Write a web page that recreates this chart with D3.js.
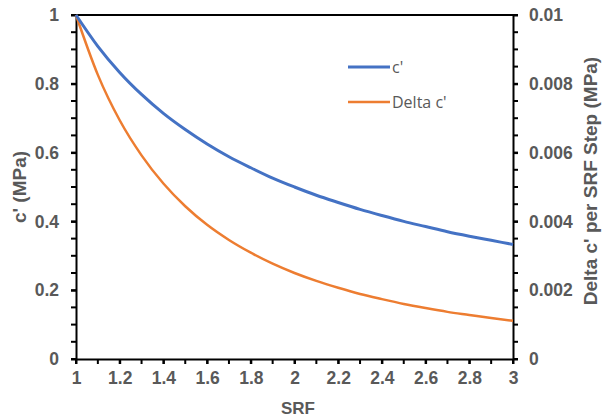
<!doctype html>
<html>
<head>
<meta charset="utf-8">
<style>
	body { margin: 0; background: #fff; }
	.tick text {
		font: bold 17.5px "Liberation Sans", Arial, sans-serif;
		fill: #595959;
	}
	.lbl {
		font: bold 18px "Liberation Sans", Arial, sans-serif;
		fill: #595959;
	}
	.axis path, .axis line {
		stroke: #000;
		stroke-width: 2px;
	}
	.lgd-text {
		font: 16px "Open Sans", sans-serif;
		fill: #595959;
	}
</style>
<script src="https://d3js.org/d3.v7.min.js"></script>
</head>
<body>
<div id="canvas"></div>
<script>
	var srf = [1, 1.1, 1.2, 1.3, 1.4, 1.5, 1.6, 1.7, 1.8, 1.9, 2, 2.1, 2.2, 2.3, 2.4, 2.5, 2.6, 2.7, 2.8, 2.9, 3];
	var c_prime = [1, 0.909, 0.833, 0.769, 0.714, 0.667, 0.625, 0.588, 0.556, 0.526, 0.5, 0.476, 0.455, 0.435, 0.417, 0.4, 0.385, 0.37, 0.357, 0.345, 0.333];
	var delta_c = [0.01, 0.00826, 0.00694, 0.00592, 0.0051, 0.00444, 0.0039, 0.00346, 0.00309, 0.00277, 0.0025, 0.00227, 0.00207, 0.00189, 0.00174, 0.0016, 0.00148, 0.00137, 0.00128, 0.00119, 0.00111];
	var x_ticks = [1, 1.2, 1.4, 1.6, 1.8, 2, 2.2, 2.4, 2.6, 2.8, 3];
	var y_ticks = [0, 0.2, 0.4, 0.6, 0.8, 1];
	var y2_ticks = [0, 0.002, 0.004, 0.006, 0.008, 0.01];

	var width = 602,
		height = 419,
		margin = {top: 15, right: 89, bottom: 60, left: 76};

	var svg = d3.select("#canvas")
		.append("svg")
		.attr("width", width)
		.attr("height", height);

	var scale_x = d3.scaleLinear().domain([1, 3]).range([margin.left, width - margin.right]);
	var scale_y = d3.scaleLinear().domain([0, 1]).range([height - margin.bottom, margin.top]);
	var scale_y2 = d3.scaleLinear().domain([0, 0.01]).range([height - margin.bottom, margin.top]);

	// minor ticks
	var minor = function(scale, n, attrs) {
		var g = svg.append("g").attr("class", "axis");
		g.selectAll("line").data(d3.range(n + 1).map(i => scale.domain()[0] + i * (scale.domain()[1] - scale.domain()[0]) / n))
			.enter().append("line")
			.each(function(d) { attrs(d3.select(this), scale(d)); });
	};

	// top border
	svg.append("line")
		.attr("x1", margin.left).attr("x2", width - margin.right)
		.attr("y1", margin.top).attr("y2", margin.top)
		.attr("stroke", "#000").attr("stroke-width", 2);

	minor(scale_x, 20, (l, v) => l.attr("x1", v).attr("x2", v).attr("y1", height - margin.bottom).attr("y2", height - margin.bottom + 5));
	minor(scale_y, 20, (l, v) => l.attr("y1", v).attr("y2", v).attr("x1", margin.left).attr("x2", margin.left - 5));
	minor(scale_y2, 20, (l, v) => l.attr("y1", v).attr("y2", v).attr("x1", width - margin.right).attr("x2", width - margin.right + 5));

	var clean = g => g.selectAll(".tick text").attr("font-family", null).attr("font-size", null);

	svg.append("g")
		.attr("class", "axis")
		.attr("transform", `translate(0, ${height - margin.bottom})`)
		.call(d3.axisBottom(scale_x).tickValues(x_ticks).tickSize(5).tickSizeOuter(0).tickPadding(8).tickFormat(d3.format("")))
		.call(clean);

	svg.append("g")
		.attr("class", "axis")
		.attr("transform", `translate(${margin.left}, 0)`)
		.call(d3.axisLeft(scale_y).tickValues(y_ticks).tickSize(5).tickSizeOuter(0).tickPadding(12).tickFormat(d3.format("")))
		.call(clean);

	svg.append("g")
		.attr("class", "axis")
		.attr("transform", `translate(${width - margin.right}, 0)`)
		.call(d3.axisRight(scale_y2).tickValues(y2_ticks).tickSize(5).tickSizeOuter(0).tickPadding(11).tickFormat(d3.format("")))
		.call(clean);

	svg.selectAll(".axis .domain").attr("stroke-width", 2.5);

	var data = srf.map((d, i) => ({x: d, c: c_prime[i], dc: delta_c[i]}));

	svg.append("path")
		.datum(data)
		.attr("fill", "none")
		.attr("stroke", "#ED7D31")
		.attr("stroke-width", 2.5)
		.attr("d", d3.line().x(d => scale_x(d.x)).y(d => scale_y2(d.dc)).curve(d3.curveMonotoneX));

	svg.append("path")
		.datum(data)
		.attr("fill", "none")
		.attr("stroke", "#4472C4")
		.attr("stroke-width", 3)
		.attr("d", d3.line().x(d => scale_x(d.x)).y(d => scale_y(d.c)).curve(d3.curveMonotoneX));

	// axis titles
	svg.append("text").attr("class", "lbl")
		.attr("x", 298).attr("y", 414)
		.attr("text-anchor", "middle").style("font-size", "17px").text("SRF");

	svg.append("text").attr("class", "lbl")
		.attr("transform", `translate(26, 187) rotate(-90)`)
		.attr("text-anchor", "middle").style("font-size", "19px").text("c' (MPa)");

	svg.append("text").attr("class", "lbl")
		.attr("transform", `translate(590, 181) rotate(-90)`)
		.attr("text-anchor", "middle").attr("dy", "0.35em").style("font-size", "19px").text("Delta c' per SRF Step (MPa)");

	// legend
	var legend = [{name: "c'", color: "#4472C4", w: 3, y: 67}, {name: "Delta c'", color: "#ED7D31", w: 2.5, y: 102}];
	var lg = svg.selectAll(".lgd").data(legend).enter().append("g").attr("class", "lgd");
	lg.append("line")
		.attr("x1", 348).attr("x2", 390)
		.attr("y1", d => d.y).attr("y2", d => d.y)
		.attr("stroke", d => d.color).attr("stroke-width", d => d.w);
	lg.append("text").attr("class", "lgd-text")
		.attr("x", 392).attr("y", d => d.y).attr("dy", "0.35em")
		.text(d => d.name);
</script>
</body>
</html>
